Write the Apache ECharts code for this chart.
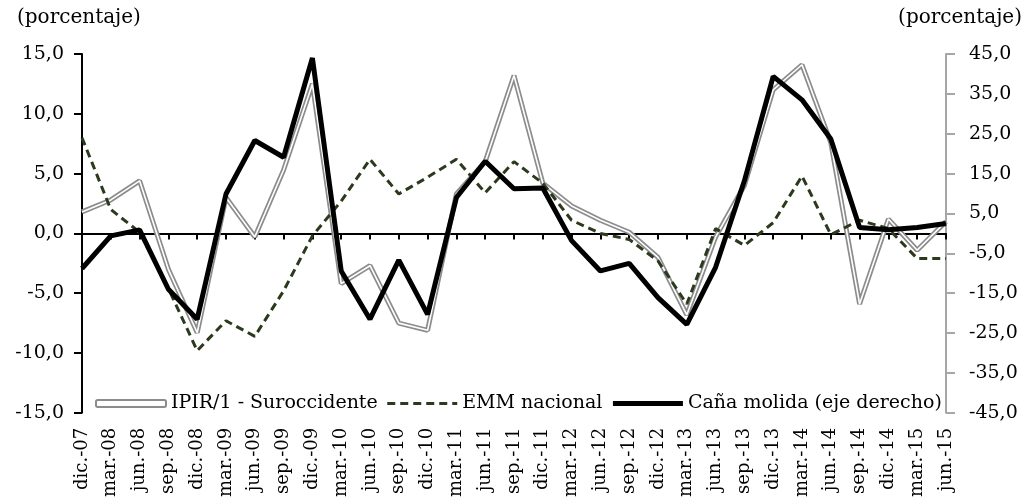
<!DOCTYPE html>
<html>
<head>
<meta charset="utf-8">
<script src="https://cdn.jsdelivr.net/npm/echarts@6/dist/echarts.min.js"></script>
<style>
  html, body { margin: 0; padding: 0; background: #fff; }
  #chart { width: 1026px; height: 500px; }
</style>
</head>
<body>
<div id="chart"></div>
<script>
// trimestres
var categories = [
  'dic.-07', 'mar.-08', 'jun.-08', 'sep.-08', 'dic.-08', 'mar.-09', 'jun.-09', 'sep.-09',
  'dic.-09', 'mar.-10', 'jun.-10', 'sep.-10', 'dic.-10', 'mar.-11', 'jun.-11', 'sep.-11',
  'dic.-11', 'mar.-12', 'jun.-12', 'sep.-12', 'dic.-12', 'mar.-13', 'jun.-13', 'sep.-13',
  'dic.-13', 'mar.-14', 'jun.-14', 'sep.-14', 'dic.-14', 'mar.-15', 'jun.-15'
];

// eje izquierdo
var ipir = [
  1.8, 2.8, 4.4, -3.0, -8.3, 3.0, -0.3, 5.3,
  12.5, -4.2, -2.7, -7.5, -8.1, 3.3, 6.0, 13.2,
  4.2, 2.3, 1.1, 0.1, -2.0, -6.8, -0.3, 4.0,
  12.0, 14.1, 7.6, -5.9, 1.2, -1.4, 1.0
];
var emm = [
  8.0, 2.0, 0.1, -4.6, -9.8, -7.3, -8.6, -4.8,
  -0.2, 2.7, 6.2, 3.3, 4.7, 6.2, 3.4, 6.0,
  4.2, 1.1, 0.0, -0.5, -2.3, -5.9, 0.4, -1.0,
  0.9, 4.8, -0.1, 1.1, 0.4, -2.1, -2.1
];
// eje derecho
var cana = [
  -8.8, -0.6, 0.9, -14.0, -21.5, 9.9, 23.3, 19.1,
  44.0, -9.4, -21.5, -6.7, -20.3, 9.0, 18.1, 11.2,
  11.4, -1.8, -9.4, -7.5, -16.1, -22.8, -8.5, 13.2,
  39.4, 33.5, 23.7, 1.5, 0.9, 1.5, 2.5
];

var leftTicks = { min: -15, max: 15, interval: 5 };
var rightTicks = { min: -45, max: 45, interval: 10 };

var serif = 'DejaVu Serif';
var fmt = function (v) { return v.toFixed(1).replace('.', ','); };

var chart = echarts.init(document.getElementById('chart'), null, { renderer: 'canvas' });

var option = {
  animation: false,
  backgroundColor: '#fff',
  grid: { left: 82, right: 80, top: 54, bottom: 86 },
  graphic: [
    { type: 'text', left: 17, top: 8, style: { text: '(porcentaje)', font: '20px "DejaVu Serif"', fill: '#000' } },
    { type: 'text', right: 4, top: 8, style: { text: '(porcentaje)', font: '20px "DejaVu Serif"', fill: '#000' } }
  ],
  legend: {
    left: 90,
    top: 389,
    itemWidth: 70,
    itemHeight: 7,
    itemGap: 8,
    textStyle: { fontFamily: serif, fontSize: 19, color: '#000' },
    data: [
      { name: 'IPIR/1 - Suroccidente', icon: 'roundRect',
        itemStyle: { color: '#fff', borderColor: '#8c8c8c', borderWidth: 2 } },
      { name: 'EMM nacional', itemStyle: { opacity: 0 },
        lineStyle: { width: 3, type: [8, 5], color: '#2b3a1c' } },
      { name: 'Caña molida (eje derecho)', itemStyle: { opacity: 0 },
        lineStyle: { width: 5, color: '#000' } }
    ]
  },
  xAxis: [
    {
      type: 'category',
      data: categories,
      boundaryGap: false,
      position: 'bottom',
      axisLine: { show: false, onZero: false },
      axisTick: { show: false },
      axisLabel: { interval: 0, rotate: 90, margin: 15, fontFamily: serif, fontSize: 18, color: '#000' }
    },
    {
      type: 'category',
      data: categories,
      boundaryGap: false,
      position: 'bottom',
      axisLine: { show: true, onZero: true, lineStyle: { color: '#000', width: 2 } },
      axisTick: { show: true, interval: 0, length: 6, lineStyle: { color: '#000', width: 2 } },
      axisLabel: { show: false }
    }
  ],
  yAxis: [
    {
      type: 'value',
      min: leftTicks.min, max: leftTicks.max, interval: leftTicks.interval,
      axisLine: { show: true, lineStyle: { color: '#000', width: 2 } },
      axisTick: { show: true, length: 8, lineStyle: { color: '#000', width: 2 } },
      splitLine: { show: false },
      axisLabel: { formatter: fmt, margin: 18, fontFamily: serif, fontSize: 19, color: '#000' }
    },
    {
      type: 'value',
      min: rightTicks.min, max: rightTicks.max, interval: rightTicks.interval,
      axisLine: { show: true, lineStyle: { color: '#a6a6a6', width: 2 } },
      axisTick: { show: true, length: 9, lineStyle: { color: '#a6a6a6', width: 2 } },
      splitLine: { show: false },
      axisLabel: { formatter: fmt, margin: 23, fontFamily: serif, fontSize: 19, color: '#000' }
    }
  ],
  series: [
    {
      name: 'IPIR/1 - Suroccidente',
      type: 'line',
      data: ipir,
      yAxisIndex: 0,
      symbol: 'none',
      color: '#8c8c8c',
      lineStyle: { color: '#8c8c8c', width: 5 },
      z: 2
    },
    {
      name: 'IPIR-interior',
      type: 'line',
      data: ipir,
      yAxisIndex: 0,
      symbol: 'none',
      lineStyle: { color: '#fff', width: 1.6 },
      z: 3
    },
    {
      name: 'EMM nacional',
      type: 'line',
      data: emm,
      yAxisIndex: 0,
      symbol: 'none',
      color: '#2b3a1c',
      lineStyle: { color: '#2b3a1c', width: 3, type: [8, 5] },
      z: 4
    },
    {
      name: 'Caña molida (eje derecho)',
      type: 'line',
      data: cana,
      yAxisIndex: 1,
      symbol: 'none',
      color: '#000',
      lineStyle: { color: '#000', width: 5 },
      z: 5
    }
  ]
};

chart.setOption(option);
</script>
</body>
</html>
